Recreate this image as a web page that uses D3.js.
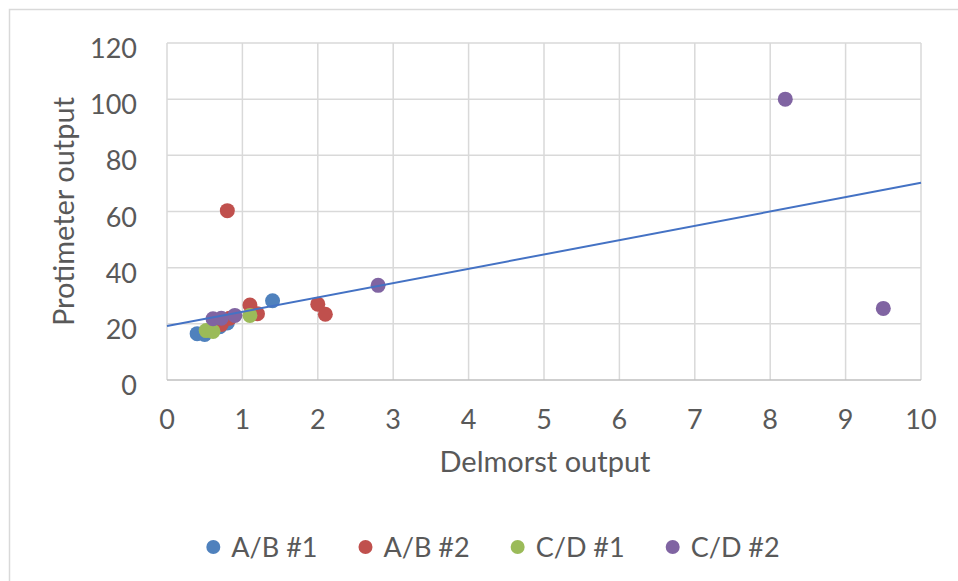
<!DOCTYPE html>
<html lang="en">
<head>
  <meta charset="UTF-8">
  <title>Delmorst vs Protimeter</title>
  <script src="https://cdn.jsdelivr.net/npm/d3@7"></script>
  <style>
    body { margin: 0; background: #fff; }
    text { font-family: Lato, "Open Sans", sans-serif; fill: #595959; }
  </style>
</head>
<body>
<script>
  const svgWidth = 958
  const svgHeight = 581

  // series data
  const seriesNames = ['A/B #1', 'A/B #2', 'C/D #1', 'C/D #2']
  const seriesColors = ['#4f81bd', '#c0504d', '#9bbb59', '#8064a2']
  const abOneX = [0.4, 0.5, 0.7, 0.8, 1.4]
  const abOneY = [16.5, 16.2, 19, 20.3, 28.2]
  const abTwoX = [0.8, 1.1, 1.2, 2.0, 2.1, 0.72, 0.83]
  const abTwoY = [60.3, 26.7, 23.6, 27, 23.4, 19.8, 22]
  const cdOneX = [0.52, 0.61, 1.1]
  const cdOneY = [17.6, 17.3, 23]
  const cdTwoX = [0.61, 0.72, 0.9, 2.8, 8.2, 9.5]
  const cdTwoY = [21.8, 22, 23, 33.7, 100, 25.5]
  // linear trendline end points
  const trendX = [0, 10]
  const trendY = [19.2, 70.2]

  const xTicks = d3.range(0, 11, 1)
  const yTicks = d3.range(0, 121, 20)

  const seriesX = [abOneX, abTwoX, cdOneX, cdTwoX]
  const seriesY = [abOneY, abTwoY, cdOneY, cdTwoY]

  const margin = { top: 43, left: 167, right: 37, bottom: 201 }
  const plotW = svgWidth - margin.left - margin.right
  const plotH = svgHeight - margin.top - margin.bottom

  const svg = d3.select('body')
    .append('svg')
    .attr('width', svgWidth)
    .attr('height', svgHeight)

  // chart frame
  svg.append('rect')
    .attr('x', 9.5).attr('y', 9.5)
    .attr('width', 960).attr('height', 600)
    .attr('fill', 'none')
    .attr('stroke', '#d9d9d9')
    .attr('stroke-width', 1.5)

  const x = d3.scaleLinear().domain([0, 10]).range([0, plotW])
  const y = d3.scaleLinear().domain([0, 120]).range([plotH, 0])

  const g = svg.append('g')
    .attr('transform', `translate(${margin.left},${margin.top})`)

  // gridlines
  g.append('g')
    .selectAll('line')
    .data(xTicks)
    .enter()
    .append('line')
    .attr('x1', d => x(d)).attr('x2', d => x(d))
    .attr('y1', 0).attr('y2', plotH)
    .attr('stroke', '#d9d9d9')
    .attr('stroke-width', 1.5)

  g.append('g')
    .selectAll('line')
    .data(yTicks)
    .enter()
    .append('line')
    .attr('x1', 0).attr('x2', plotW)
    .attr('y1', d => y(d)).attr('y2', d => y(d))
    .attr('stroke', d => d === 0 ? '#bfbfbf' : '#d9d9d9')
    .attr('stroke-width', 1.5)

  // tick labels
  g.append('g')
    .selectAll('text')
    .data(xTicks)
    .enter()
    .append('text')
    .attr('x', d => x(d))
    .attr('y', plotH + 49)
    .attr('text-anchor', 'middle')
    .attr('font-size', 27)
    .text(d => d)

  g.append('g')
    .selectAll('text')
    .data(yTicks)
    .enter()
    .append('text')
    .attr('x', -30)
    .attr('y', d => y(d) + 15)
    .attr('text-anchor', 'end')
    .attr('font-size', 27)
    .text(d => d)

  // axis titles
  svg.append('text')
    .attr('x', 545)
    .attr('y', 472)
    .attr('text-anchor', 'middle')
    .attr('font-size', 29)
    .text('Delmorst output')

  svg.append('text')
    .attr('transform', `translate(74,${margin.top + plotH / 2}) rotate(-90)`)
    .attr('text-anchor', 'middle')
    .attr('font-size', 29)
    .text('Protimeter output')

  // markers
  seriesNames.forEach((name, i) => {
    g.append('g')
      .selectAll('circle')
      .data(seriesX[i].map((v, j) => [v, seriesY[i][j]]))
      .enter()
      .append('circle')
      .attr('cx', d => x(d[0]))
      .attr('cy', d => y(d[1]))
      .attr('r', 7.5)
      .attr('fill', seriesColors[i])
  })

  // trendline
  g.append('path')
    .attr('d', d3.line().x(d => x(d[0])).y(d => y(d[1]))(trendX.map((v, j) => [v, trendY[j]])))
    .attr('stroke', '#4472c4')
    .attr('stroke-width', 2)
    .attr('fill', 'none')

  // legend
  const legend = svg.append('g')
  const items = legend.selectAll('g')
    .data(seriesNames)
    .enter()
    .append('g')
  items.append('circle')
    .attr('r', 7)
    .attr('cy', 0)
    .attr('fill', (d, i) => seriesColors[i])
  items.append('text')
    .attr('x', 18)
    .attr('y', 10)
    .attr('font-size', 27)
    .text(d => d)
  let cursor = 0
  items.each(function () {
    const w = d3.select(this).select('text').node().getComputedTextLength()
    d3.select(this).attr('transform', `translate(${cursor},547)`)
    cursor += 18 + w + 48
  })
  const total = cursor - 48 + 7
  legend.attr('transform', `translate(${493 - total / 2 + 7},0)`)
</script>
</body>
</html>
